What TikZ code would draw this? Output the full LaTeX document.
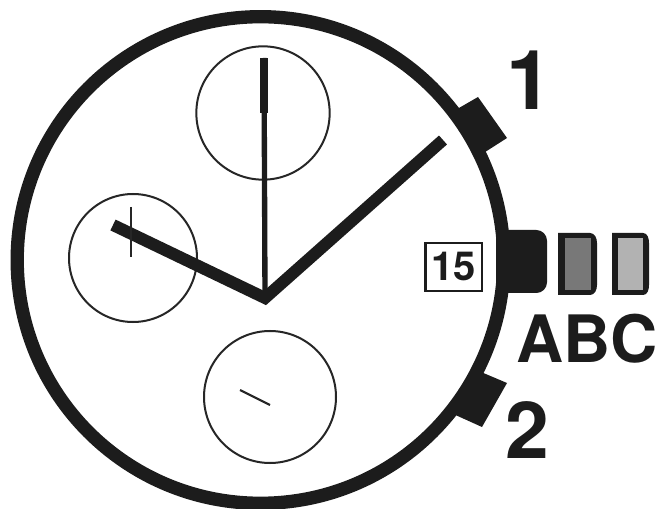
\documentclass[tikz,border=0pt]{standalone}
\usepackage{fontspec}
\setmainfont{TeX Gyre Heros}
\definecolor{inkc}{gray}{0.11}
\tikzset{
  x=0.75pt,y=-0.75pt,
  ink/.style={draw=inkc,line join=miter},
  subdial/.style={draw=black!85,line width=1.5pt,circle,inner sep=0pt},
  bold label/.style={inner sep=0pt,font=\bfseries,text=inkc,anchor=center},
  hand/.style={draw=inkc,line cap=butt},
}
\begin{document}
\begin{tikzpicture}
\useasboundingbox (0,0) rectangle (656,509);
\fill[white] (0,0) rectangle (656,509);
% subdials
\node[subdial,minimum size=100pt] (top) at (263,113) {};
\node[subdial,minimum size=96pt] (left) at (133,258) {};
\node[subdial,minimum size=99pt] (bottom) at (270,397) {};
% case
\draw[ink,line width=10pt] (260.5,260) circle[radius=243.3];
% crowns
\fill[inkc] (452,112) -- (478,97) -- (507,138) -- (482,154) -- cycle;
\fill[inkc] (481,372) -- (507,383) -- (482,427) -- (451,413) -- cycle;
\fill[inkc,rounded corners=8pt] (496,230) -- (547,230) -- (547,293) -- (496,293) [sharp corners] -- cycle;
% position B, C
\fill[inkc] (558,233) -- (590,233) to[out=0,in=90] (597,243) -- (597,285) to[out=-90,in=0] (590,295) -- (558,295) -- cycle;
\fill[black!53] (565,238) rectangle (591,290);
\fill[inkc] (612,233) -- (643,233) to[out=0,in=90] (649,243) -- (649,285) to[out=-90,in=0] (643,295) -- (612,295) -- cycle;
\fill[black!30] (618,238) rectangle (643,290);
% date window
\node[draw=inkc,line width=2pt,minimum width=42.5pt,minimum height=36pt,inner sep=0pt,font=\bfseries\fontsize{30}{30}\selectfont,text=inkc] (date) at (453.5,267) {15};
% hands
\coordinate (pivot) at (265,298);
\coordinate (sectip) at (264,58);
\coordinate (sectail) at (264,113);
\coordinate (mintip) at (443,140);
\coordinate (hourtip) at (113,225);
\draw[hand,line width=4pt] (pivot) -- (sectip);
\draw[hand,line width=6pt] (sectail) -- (sectip);
\draw[hand,line width=9pt,line join=miter] (mintip) -- (pivot) -- (hourtip);
% subdial hands
\coordinate (lefta) at (131,207);
\coordinate (leftb) at (131,257);
\coordinate (bota) at (240,390);
\coordinate (botb) at (270,405);
\draw[draw=black!85,line width=1.5pt] (lefta) -- (leftb);
\draw[draw=black!85,line width=1.6pt] (bota) -- (botb);
% labels
\node[bold label,font=\bfseries\fontsize{62}{62}\selectfont] (one) at (529,80) {1};
\node[bold label,font=\bfseries\fontsize{59}{59}\selectfont] (two) at (527,430) {2};
\node[bold label,font=\bfseries\fontsize{49}{49}\selectfont] (abc) at (587,339) {ABC};
\end{tikzpicture}
\end{document}
